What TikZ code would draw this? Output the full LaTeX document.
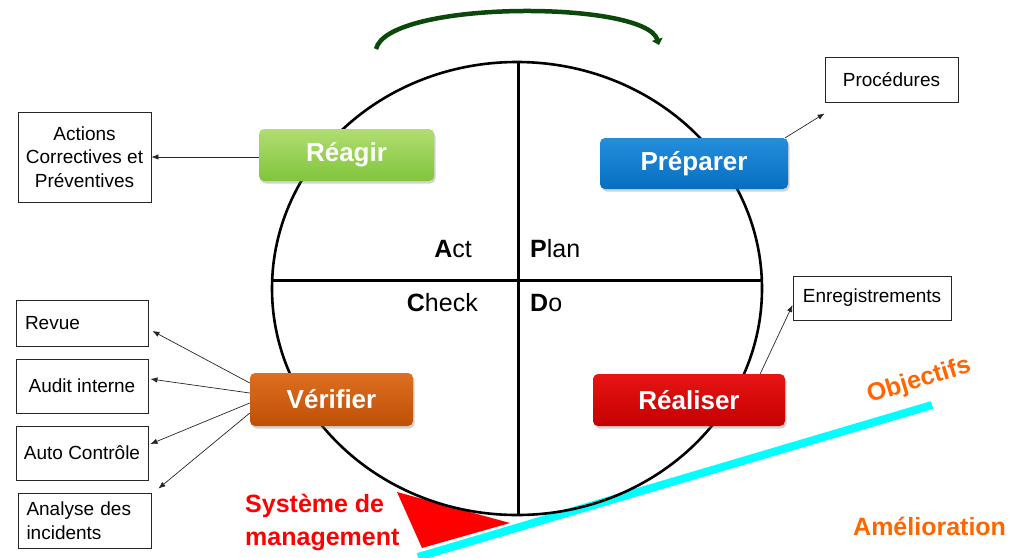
\documentclass[tikz,border=0pt]{standalone}
\usepackage{fontspec}
\setmainfont{Liberation Sans}
\usetikzlibrary{arrows.meta,shadows,calc}
\definecolor{arcgreen}{RGB}{12,72,12}
\definecolor{greenT}{RGB}{176,222,112}
\definecolor{greenB}{RGB}{128,196,60}
\definecolor{blueT}{RGB}{36,142,220}
\definecolor{blueB}{RGB}{6,110,192}
\definecolor{orT}{RGB}{222,110,32}
\definecolor{orB}{RGB}{190,80,6}
\definecolor{redT}{RGB}{232,20,20}
\definecolor{redB}{RGB}{196,0,0}
\definecolor{orangetxt}{RGB}{255,102,0}
\definecolor{cyanline}{RGB}{0,255,255}
\newcommand\fsbox{\fontsize{26}{30}\selectfont\bfseries}
\newcommand\fssmall{\fontsize{19}{23.5}\selectfont}
\newcommand\fspdca{\fontsize{25}{30}\selectfont}
\newcommand\fsred{\fontsize{25}{33}\selectfont\bfseries}
\begin{document}
\begin{tikzpicture}[x=1pt,y=-1pt,
  phase/.style={rounded corners=5pt, text=white, font=\fsbox, inner sep=0pt,
    drop shadow={opacity=0.35, shadow xshift=1.5pt, shadow yshift=-2.5pt}},
  infobox/.style={draw=black!85, line width=0.9pt, fill=white, font=\fssmall, inner sep=0pt, align=center},
  conn/.style={line width=0.7pt, black!85, -{Latex[length=7pt,width=5.5pt]}},
  pdca/.style={font=\fspdca, inner sep=0pt}
]
\useasboundingbox (0,0) rectangle (1019,557);

% improvement slope
\draw[cyanline, line width=8pt] (418,557) coordinate (slA) -- (932,405) coordinate (slB);
% wedge
\fill[red] (397,492) -- (510,523) -- (422,548) -- cycle;

% circle and quadrants
\draw[line width=2.6pt] (517,288.5) ellipse [x radius=245pt, y radius=226.5pt];
\coordinate (ctop) at (518,62);
\coordinate (cbot) at (518,515);
\coordinate (cleft) at (272.5,280);
\coordinate (cright) at (761.5,280);
\draw[line width=3pt] (ctop) -- (cbot);
\draw[line width=3pt] (cleft) -- (cright);

% top rotation arrow
\coordinate (arcS) at (376,49);
\coordinate (arcE) at (659,45);
\draw[arcgreen, line width=4.5pt, -{Triangle[length=6pt,width=11pt]}]
  (arcS) .. controls (388,0) and (645,0) .. (arcE);

% PDCA labels
\node[pdca, anchor=base east] (act) at (472,257) {\textbf{A}ct};
\node[pdca, anchor=base west] (plan) at (530,257) {\textbf{P}lan};
\node[pdca, anchor=base east] (check) at (478,311) {\textbf{C}heck};
\node[pdca, anchor=base west] (do) at (530,311) {\textbf{D}o};

% phase boxes
\node[phase, top color=greenT, bottom color=greenB, minimum width=175pt, minimum height=52pt] (reagir) at (346.5,155) {Réagir};
\node[phase, top color=blueT, bottom color=blueB, minimum width=188pt, minimum height=51pt] (preparer) at (694,163.5) {Préparer};
\node[phase, top color=orT, bottom color=orB, minimum width=163pt, minimum height=53pt] (verifier) at (331.5,399.5) {Vérifier};
\node[phase, top color=redT, bottom color=redB, minimum width=192pt, minimum height=52pt] (realiser) at (689,400) {Réaliser};

% info boxes
\node[infobox, minimum width=133pt, minimum height=90pt] (actions) at (84.5,157) {Actions\\Correctives et\\Préventives};
\node[infobox, minimum width=132pt, minimum height=46pt, text width=114pt, align=left] (revue) at (82,323) {Revue};
\node[infobox, minimum width=132pt, minimum height=54pt] (audit) at (82,386) {Audit interne};
\node[infobox, minimum width=132pt, minimum height=54pt] (auto) at (82,453) {Auto Contrôle};
\node[infobox, minimum width=133pt, minimum height=55pt, text width=116pt, align=left] (analyse) at (84.5,520.5) {Analyse des\\incidents};
\node[infobox, minimum width=133pt, minimum height=45pt] (proc) at (891.5,79.5) {Procédures};
\node[infobox, minimum width=158pt, minimum height=44pt] (enr) at (872,298) {Enregistrements};

% connectors
\draw[conn] (reagir.west |- actions.east) -- (actions.east);
\draw[conn] ($(preparer.north east)+(-3,0)$) -- ($(proc.south west)+(0,11)$);
\draw[conn] ($(realiser.north east)+(-25,0)$) -- ($(enr.west)+(0,7)$);
\draw[conn] ($(verifier.west)+(0,-16.5)$) -- ($(revue.east)+(4,8)$);
\draw[conn] ($(verifier.west)+(0,-6.5)$) -- ($(audit.east)+(2,-7)$);
\draw[conn] ($(verifier.west)+(0,3.5)$) -- ($(auto.east)+(2,-9)$);
\draw[conn] ($(verifier.west)+(0,13.5)$) -- ($(analyse.north east)+(7,-4)$);

% red and orange labels
\node[font=\fsred, text=red, align=left, anchor=north west, inner sep=0pt] (sys) at (245,494) {Système de\\management};
\node[font=\fsred, text=orangetxt, anchor=base west, inner sep=0pt] (amel) at (853,535) {Amélioration};
\node[font=\fsred, text=orangetxt, rotate=17, inner sep=0pt] (obj) at (919,381) {Objectifs};
\end{tikzpicture}
\end{document}
